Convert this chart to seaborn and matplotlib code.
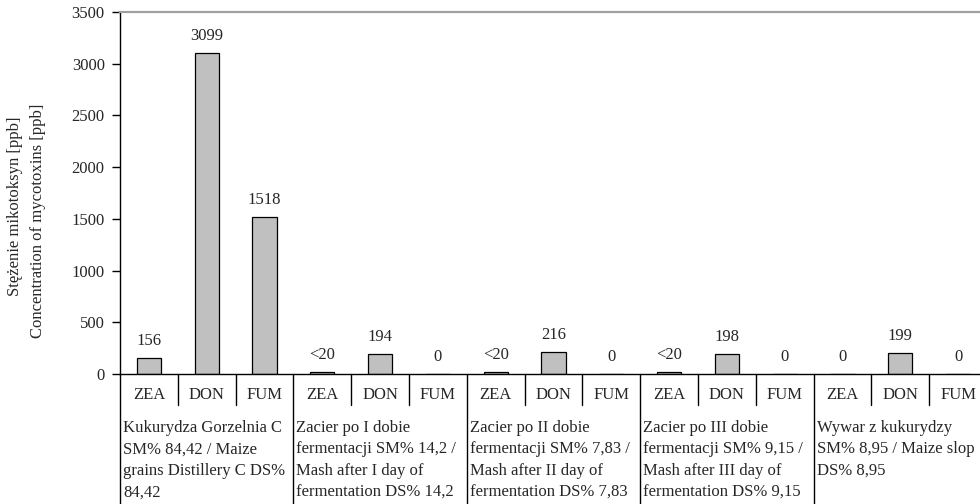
import matplotlib
import pandas as pd
import seaborn as sns

matplotlib.use("Agg")
import matplotlib.pyplot as plt
from matplotlib.transforms import blended_transform_factory

# chart data
groups = [
    "Kukurydza Gorzelnia C\nSM% 84,42 / Maize\ngrains Distillery C DS%\n84,42",
    "Zacier po I dobie\nfermentacji SM% 14,2 /\nMash after I day of\nfermentation DS% 14,2",
    "Zacier po II dobie\nfermentacji SM% 7,83 /\nMash after II day of\nfermentation DS% 7,83",
    "Zacier po III dobie\nfermentacji SM% 9,15 /\nMash after III day of\nfermentation DS% 9,15",
    "Wywar z kukurydzy\nSM% 8,95 / Maize slop\nDS% 8,95",
]
toxins = ["ZEA", "DON", "FUM"]
values = [
    [156, 3099, 1518],
    [20, 194, 0],
    [20, 216, 0],
    [20, 198, 0],
    [0, 199, 0],
]
value_labels = [
    ["156", "3099", "1518"],
    ["<20", "194", "0"],
    ["<20", "216", "0"],
    ["<20", "198", "0"],
    ["0", "199", "0"],
]
y_ticks = [0, 500, 1000, 1500, 2000, 2500, 3000, 3500]


def build_df():
    rows = []
    for gi, g in enumerate(groups):
        for ti, t in enumerate(toxins):
            rows.append({
                "key": f"{gi}-{t}",
                "group": g,
                "toxin": t,
                "value": values[gi][ti],
                "label": value_labels[gi][ti],
            })
    return pd.DataFrame(rows)


df = build_df()

sns.set_theme(style="white")
plt.rcParams["font.family"] = ["Liberation Serif", "DejaVu Serif"]
FS = 12

W, H = 980, 504
fig = plt.figure(figsize=(W / 100, H / 100), dpi=100)
# axes box in pixels: left 120, top 12, bottom 374, 15 slots of ~57.8 px
ax = fig.add_axes([120 / W, (H - 374) / H, 867 / W, 362 / H])

sns.barplot(
    data=df, x="key", y="value", order=list(df["key"]),
    color="#c0c0c0", edgecolor="black", linewidth=0.9,
    width=0.42, saturation=1, ax=ax,
)

ax.set_xlim(-0.5, len(df) - 0.5)
ax.set_ylim(0, 3500)
ax.set_yticks(y_ticks)
ax.set_yticklabels([str(v) for v in y_ticks], fontsize=FS)
ax.tick_params(axis="y", direction="out", length=6, width=1, color="black", pad=5, left=True)
ax.set_xticks([])
ax.set_xlabel("")
ax.set_ylabel("")

for side in ["left", "bottom"]:
    ax.spines[side].set_color("black")
    ax.spines[side].set_linewidth(1)
ax.spines["top"].set_color("#a0a0a0")
ax.spines["top"].set_linewidth(1.6)
ax.spines["right"].set_color("#a0a0a0")

# value labels above bars
for i, row in df.iterrows():
    ax.annotate(
        row["label"], (i, row["value"]),
        xytext=(0, 9), textcoords="offset pixels",
        ha="center", va="bottom", fontsize=FS,
    )

# category axis: toxin names, separators and group labels
trans = blended_transform_factory(ax.transData, ax.transAxes)
px = 1 / 362
for i, row in df.iterrows():
    ax.annotate(
        row["toxin"], (i, 0), xycoords=trans,
        xytext=(0, -21), textcoords="offset pixels",
        ha="center", va="center", fontsize=FS,
    )

for i in range(len(df) + 1):
    x = i - 0.5
    if i % 3 == 0:
        ax.plot([x, x], [0, -130 * px], color="black", lw=1, transform=trans, clip_on=False)
    else:
        ax.plot([x, x], [0, -31 * px], color="black", lw=1, transform=trans, clip_on=False)

for gi, g in enumerate(groups):
    ax.annotate(
        g, (gi * 3 - 0.5, 0), xycoords=trans,
        xytext=(3, -46), textcoords="offset pixels",
        ha="left", va="top", fontsize=FS, linespacing=1.45,
    )

# y axis title, two lines
fig.text(15 / W, 1 - 206 / H, "Stężenie mikotoksyn [ppb]", rotation=90,
         ha="center", va="center", fontsize=FS)
fig.text(38 / W, 1 - 221 / H, "Concentration of mycotoxins [ppb]", rotation=90,
         ha="center", va="center", fontsize=FS)

fig.savefig("out.png", dpi=100)
plt.close(fig)
